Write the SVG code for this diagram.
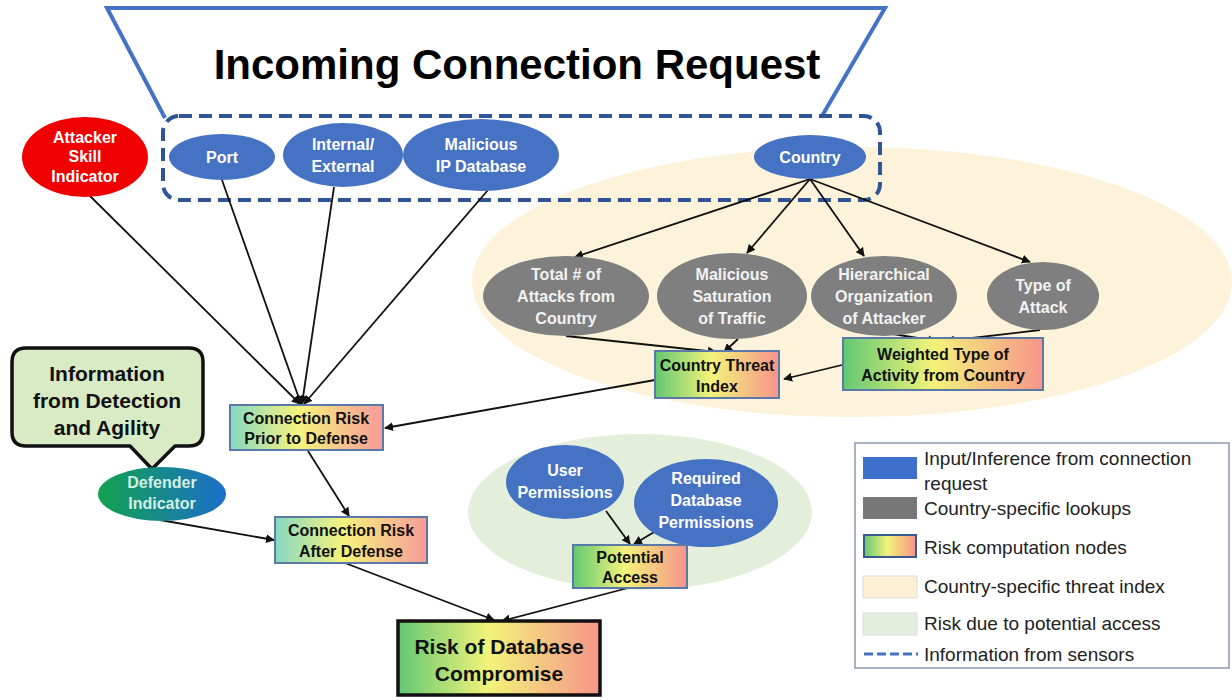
<svg xmlns="http://www.w3.org/2000/svg" width="1232" height="700" viewBox="0 0 1232 700">
<defs>
<linearGradient id="risk" x1="0" y1="0" x2="1" y2="0">
<stop offset="0" stop-color="#62C872"/>
<stop offset="0.45" stop-color="#F3F37A"/>
<stop offset="1" stop-color="#F7948A"/>
</linearGradient>
<linearGradient id="risk2" x1="0" y1="0" x2="1" y2="0">
<stop offset="0" stop-color="#86D8C2"/>
<stop offset="0.45" stop-color="#F5F37C"/>
<stop offset="1" stop-color="#F89A9A"/>
</linearGradient>
<linearGradient id="def" x1="0" y1="0" x2="1" y2="0">
<stop offset="0" stop-color="#12A24E"/>
<stop offset="1" stop-color="#1C6ECB"/>
</linearGradient>
<marker id="ah" viewBox="0 0 10 10" refX="9" refY="5" markerWidth="9" markerHeight="9" markerUnits="userSpaceOnUse" orient="auto">
<path d="M0,0 L10,5 L0,10 z" fill="#111"/>
</marker>
<style>
.blue{fill:#4672C4}
.gray{fill:#7F7F7F}
.wt{font-family:"Liberation Sans",Arial,sans-serif;font-weight:bold;font-size:16px;fill:#fff;text-anchor:middle}
.gt{font-family:"Liberation Sans",Arial,sans-serif;font-weight:bold;font-size:16px;fill:#F2F2F2;text-anchor:middle}
.bt{font-family:"Liberation Sans",Arial,sans-serif;font-weight:bold;font-size:16px;fill:#111;text-anchor:middle}
.big{font-family:"Liberation Sans",Arial,sans-serif;font-weight:bold;font-size:21px;fill:#111;text-anchor:middle}
.dt{font-family:"Liberation Sans",Arial,sans-serif;font-weight:bold;font-size:16px;fill:#D4F0E2;text-anchor:middle}
.rn{stroke:#5A78A8;stroke-width:2}
.lt{font-family:"Liberation Sans",Arial,sans-serif;font-size:19px;fill:#222}
.cn line{stroke:#111;stroke-width:1.8;fill:none;marker-end:url(#ah)}
</style>
</defs>
<rect width="1232" height="700" fill="#fff"/>

<!-- background regions -->
<ellipse cx="852" cy="282" rx="380" ry="135" fill="#FCF3DA"/>
<ellipse cx="640" cy="512" rx="172" ry="78" fill="#E3EFDA"/>

<!-- funnel -->
<g id="funnel">
<path d="M165,118 L107,8 L885,8 L822,116" fill="none" stroke="#4472C4" stroke-width="4"/>
<text x="517" y="79" font-family="Liberation Sans,Arial,sans-serif" font-weight="bold" font-size="42" fill="#000" text-anchor="middle">Incoming Connection Request</text>
<rect x="163" y="116" width="717" height="84" rx="16" fill="none" stroke="#2F5597" stroke-width="4" stroke-dasharray="13,7"/>
</g>

<!-- connectors -->
<g class="cn" id="connectors">
<line x1="88" y1="194" x2="300" y2="404"/>
<line x1="222" y1="180" x2="301" y2="404"/>
<line x1="334" y1="187" x2="302" y2="404"/>
<line x1="488" y1="190" x2="304" y2="404"/>
<line x1="810" y1="179" x2="575" y2="257"/>
<line x1="810" y1="179" x2="747" y2="253"/>
<line x1="810" y1="179" x2="864" y2="256"/>
<line x1="810" y1="179" x2="1030" y2="262"/>
<line x1="566" y1="336" x2="716" y2="352"/>
<line x1="738" y1="339" x2="724" y2="352"/>
<line x1="893" y1="334" x2="936" y2="341"/>
<line x1="1040" y1="330" x2="946" y2="341"/>
<line x1="842" y1="365" x2="784" y2="379"/>
<line x1="655" y1="380" x2="385" y2="428"/>
<line x1="308" y1="451" x2="349" y2="516"/>
<line x1="160" y1="520" x2="274" y2="540"/>
<line x1="606" y1="511" x2="630" y2="544"/>
<line x1="656" y1="531" x2="634" y2="544"/>
<line x1="345" y1="563" x2="494" y2="620"/>
<line x1="628" y1="588" x2="502" y2="621"/>
</g>

<!-- input nodes -->
<g id="attacker">
<ellipse cx="85" cy="157" rx="63" ry="40" fill="#F00000"/>
<text class="wt" x="85" y="143">Attacker</text>
<text class="wt" x="85" y="162">Skill</text>
<text class="wt" x="85" y="182">Indicator</text>
</g>
<g id="port">
<ellipse class="blue" cx="222" cy="157" rx="53" ry="23"/>
<text class="wt" x="222" y="163">Port</text>
</g>
<g id="internal">
<ellipse class="blue" cx="343" cy="155" rx="60" ry="32"/>
<text class="wt" x="343" y="150">Internal/</text>
<text class="wt" x="343" y="172">External</text>
</g>
<g id="malicious-ip">
<ellipse class="blue" cx="481" cy="155" rx="78" ry="36"/>
<text class="wt" x="481" y="150">Malicious</text>
<text class="wt" x="481" y="172">IP Database</text>
</g>
<g id="country">
<ellipse class="blue" cx="810" cy="157" rx="56" ry="22"/>
<text class="wt" x="810" y="163">Country</text>
</g>

<!-- country lookups -->
<g id="total-attacks">
<ellipse class="gray" cx="566" cy="296" rx="83" ry="40"/>
<text class="gt" x="566" y="280">Total # of</text>
<text class="gt" x="566" y="302">Attacks from</text>
<text class="gt" x="566" y="324">Country</text>
</g>
<g id="saturation">
<ellipse class="gray" cx="732" cy="296" rx="75" ry="43"/>
<text class="gt" x="732" y="280">Malicious</text>
<text class="gt" x="732" y="302">Saturation</text>
<text class="gt" x="732" y="324">of Traffic</text>
</g>
<g id="hierarchical">
<ellipse class="gray" cx="884" cy="296" rx="73" ry="40"/>
<text class="gt" x="884" y="280">Hierarchical</text>
<text class="gt" x="884" y="302">Organization</text>
<text class="gt" x="884" y="324">of Attacker</text>
</g>
<g id="type-attack">
<ellipse class="gray" cx="1043" cy="296" rx="56" ry="34"/>
<text class="gt" x="1043" y="291">Type of</text>
<text class="gt" x="1043" y="313">Attack</text>
</g>

<!-- risk nodes -->
<g id="country-threat">
<rect class="rn" x="655" y="351" width="124" height="47" fill="url(#risk)"/>
<text class="bt" x="717" y="371">Country Threat</text>
<text class="bt" x="717" y="392">Index</text>
</g>
<g id="weighted-type">
<rect class="rn" x="843" y="338" width="200" height="52" fill="url(#risk)"/>
<text class="bt" x="943" y="360">Weighted Type of</text>
<text class="bt" x="943" y="381">Activity from Country</text>
</g>
<g id="risk-prior">
<rect class="rn" x="230" y="405" width="153" height="45" fill="url(#risk2)"/>
<text class="bt" x="306" y="424">Connection Risk</text>
<text class="bt" x="306" y="444">Prior to Defense</text>
</g>
<g id="detection-callout">
<path d="M26,348 H189 Q203,348 203,362 V432 Q203,446 189,446 H175 L152,469 L130,446 H26 Q12,446 12,432 V362 Q12,348 26,348 Z" fill="#D8EBC4" stroke="#111" stroke-width="3.5" stroke-linejoin="round"/>
<text class="big" x="107" y="381">Information</text>
<text class="big" x="107" y="408">from Detection</text>
<text class="big" x="107" y="435">and Agility</text>
</g>
<g id="defender">
<ellipse cx="162" cy="494" rx="64" ry="27" fill="url(#def)"/>
<text class="dt" x="162" y="488">Defender</text>
<text class="dt" x="162" y="509">Indicator</text>
</g>
<g id="risk-after">
<rect class="rn" x="275" y="517" width="152" height="46" fill="url(#risk2)"/>
<text class="bt" x="351" y="536">Connection Risk</text>
<text class="bt" x="351" y="557">After Defense</text>
</g>
<g id="user-perm">
<ellipse class="blue" cx="565" cy="482" rx="59" ry="37"/>
<text class="wt" x="565" y="476">User</text>
<text class="wt" x="565" y="498">Permissions</text>
</g>
<g id="required-perm">
<ellipse class="blue" cx="706" cy="503" rx="72" ry="44"/>
<text class="wt" x="706" y="484">Required</text>
<text class="wt" x="706" y="506">Database</text>
<text class="wt" x="706" y="528">Permissions</text>
</g>
<g id="potential-access">
<rect class="rn" x="573" y="545" width="114" height="43" fill="url(#risk)"/>
<text class="bt" x="630" y="563">Potential</text>
<text class="bt" x="630" y="583">Access</text>
</g>
<g id="risk-db">
<rect x="398" y="621" width="202" height="74" fill="url(#risk)" stroke="#111" stroke-width="3.5"/>
<text class="big" x="499" y="654">Risk of Database</text>
<text class="big" x="499" y="681">Compromise</text>
</g>

<!-- legend -->
<g id="legend">
<rect x="855" y="443" width="374" height="225" fill="#fff" stroke="#8C99AC" stroke-width="1.5"/>
<rect x="863" y="457" width="54" height="22" fill="#3F6FCC"/>
<text class="lt" x="924" y="465">Input/Inference from connection</text>
<text class="lt" x="924" y="490">request</text>
<rect x="863" y="497" width="54" height="22" fill="#777"/>
<text class="lt" x="924" y="515">Country-specific lookups</text>
<rect x="864" y="535" width="52" height="22" fill="url(#risk)" stroke="#3A5A8C" stroke-width="2"/>
<text class="lt" x="924" y="554">Risk computation nodes</text>
<rect x="863" y="576" width="54" height="22" fill="#FCEFD2" stroke="#ddd" stroke-width="1"/>
<text class="lt" x="924" y="593">Country-specific threat index</text>
<rect x="863" y="613" width="54" height="22" fill="#E3EFDA" stroke="#ddd" stroke-width="1"/>
<text class="lt" x="924" y="630">Risk due to potential access</text>
<line x1="864" y1="654" x2="918" y2="654" stroke="#4472C4" stroke-width="3" stroke-dasharray="9,4"/>
<text class="lt" x="924" y="661">Information from sensors</text>
</g>
</svg>
